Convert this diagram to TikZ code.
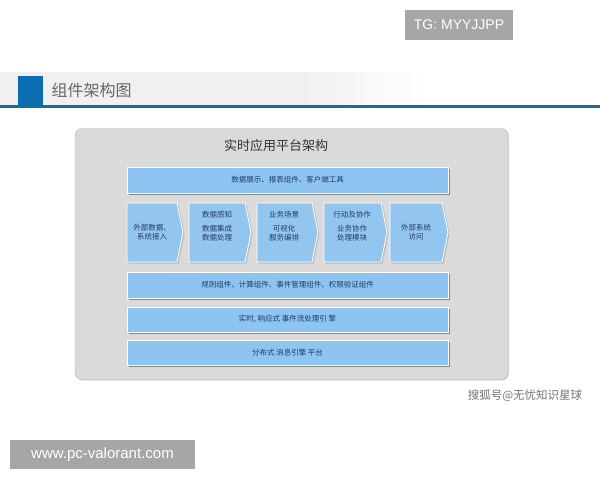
\documentclass[tikz,border=0pt]{standalone}
\usepackage{fontspec}
\setmainfont{Liberation Sans}
\newfontfamily\cjk{Noto Sans CJK SC}
\usetikzlibrary{shadows}
\definecolor{barblue}{HTML}{8EC4F2}
\definecolor{chevblue}{HTML}{93C6EF}
\definecolor{txtblue}{HTML}{1F3A66}
\definecolor{panelgray}{HTML}{DADADA}
\definecolor{lineblue}{HTML}{1B6A9C}
\definecolor{sqblue}{HTML}{0B6EB3}
\definecolor{wmgray}{HTML}{A6A6A6}
\tikzset{
  barbox/.style={fill=barblue, draw=white, line width=0.8pt,
    drop shadow={shadow xshift=1.5pt, shadow yshift=-1.5pt, fill=black!55, opacity=0.8}},
  chev/.style={fill=chevblue, draw=white, line width=0.8pt,
    drop shadow={shadow xshift=1.5pt, shadow yshift=-1.5pt, fill=black!35, opacity=0.6}},
  smalltxt/.style={font=\cjk\fontsize{7.5}{9.5}\selectfont, text=txtblue, align=center},
  wmbox/.style={fill=wmgray, text=white, inner sep=0pt}
}
\begin{document}
\begin{tikzpicture}[x=1pt,y=-1pt]
\useasboundingbox (0,0) rectangle (600,480);
\fill[white] (0,0) rectangle (600,480);
% watermark top
\node[wmbox, minimum width=108pt, minimum height=30pt, font=\fontsize{14}{16}\selectfont] (tg) at (459,25) {TG: MYYJJPP};
% title band
\fill[black!6] (0,72) rectangle (300,105);
\shade[left color=black!6, right color=white] (300,72) rectangle (425,105);
\fill[sqblue] (18,76) rectangle (43,105);
\node[font=\cjk\fontsize{16}{18}\selectfont, text=black!60, anchor=west] (title) at (48,90) {组件架构图};
\fill[lineblue] (0,104.5) rectangle (600,107.5);
% panel
\node[draw=black!30, fill=panelgray, rounded corners=7pt, minimum width=433pt, minimum height=251pt,
  drop shadow={shadow xshift=1pt, shadow yshift=-1pt, fill=black!25, opacity=0.6}] (panel) at (291.5,254) {};
\node[font=\cjk\fontsize{13}{15}\selectfont, text=black!80] (ptitle) at (276,146) {实时应用平台架构};
% bars
\node[barbox, minimum width=321pt, minimum height=26pt, smalltxt] (bar1) at (287.5,180) {数据展示、报表组件、客户端工具};
\node[barbox, minimum width=321pt, minimum height=26pt, smalltxt] (bar2) at (287.5,285) {规则组件、计算组件、事件管理组件、权限验证组件};
\node[barbox, minimum width=321pt, minimum height=25pt, smalltxt] (bar3) at (287.5,319.5) {实时, 响应式 事件流处理引 擎};
\node[barbox, minimum width=321pt, minimum height=25pt, smalltxt] (bar4) at (287.5,352.5) {分布式 消息引擎 平台};
% chevrons
\foreach \a/\b [count=\i] in {127/183, 189/251, 257/318, 324/387, 390/448}{
  \draw[chev] (\a,203) -- (\b-6,203) -- (\b,232.5) -- (\b-6,262) -- (\a,262) -- cycle;
}
\node[smalltxt] (c1) at (152,232) {外部数据、\\系统接入};
\node[smalltxt] (c2a) at (217,215) {数据感知};
\node[smalltxt] (c2b) at (217,233) {数据集成\\数据处理};
\node[smalltxt] (c3a) at (284,215) {业务场景};
\node[smalltxt] (c3b) at (284,233) {可视化\\服务编排};
\node[smalltxt] (c4a) at (352,215) {行动及协作};
\node[smalltxt] (c4b) at (352,233) {业务协作\\处理模块};
\node[smalltxt] (c5) at (416,232) {外部系统\\访问};
% watermarks bottom
\node[font=\cjk\fontsize{11.5}{13}\selectfont, text=black!55] (sohu) at (525,396) {搜狐号@无忧知识星球};
\node[wmbox, minimum width=185pt, minimum height=29pt, font=\fontsize{15}{17}\selectfont] (url) at (102.5,454.5) {www.pc-valorant.com};
\end{tikzpicture}
\end{document}
